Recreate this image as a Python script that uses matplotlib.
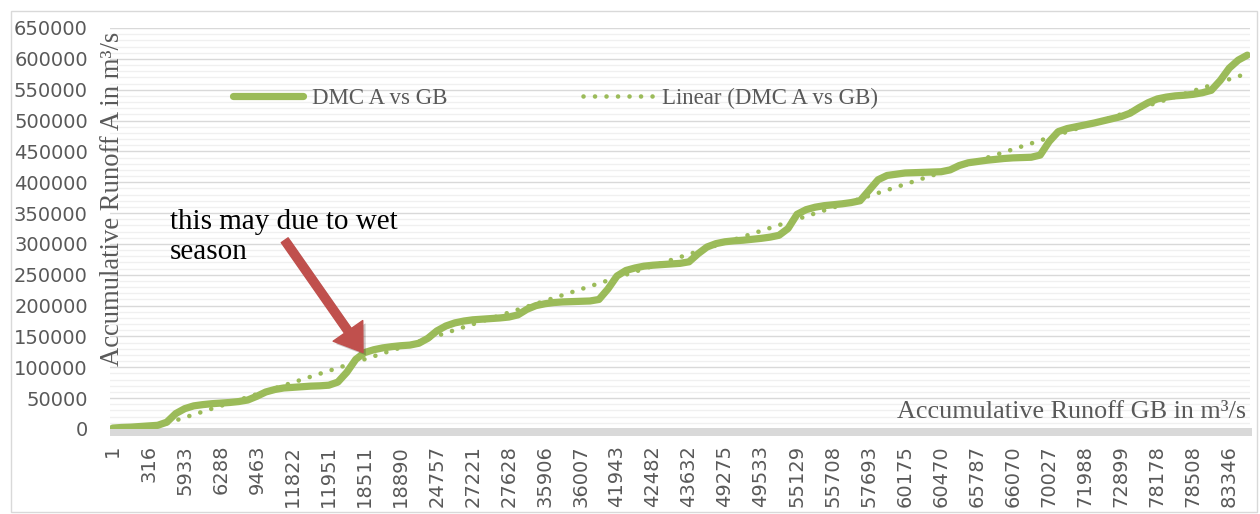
import numpy as np
import matplotlib
matplotlib.use("Agg")
import matplotlib.pyplot as plt
from matplotlib.patches import Rectangle
from matplotlib.ticker import MultipleLocator
import matplotlib.patheffects as pe

# ---- data -------------------------------------------------------------
tick_labels = ["1", "316", "5933", "6288", "9463", "11822", "11951", "18511",
               "18890", "24757", "27221", "27628", "35906", "36007", "41943",
               "42482", "43632", "49275", "49533", "55129", "55708", "57693",
               "60175", "60470", "65787", "66070", "70027", "71988", "72899",
               "78178", "78508", "83346"]
label_every = 4

dmc_values = [
    1500, 2500, 3000, 4000, 5000, 6000, 11000, 25000, 33000, 37500,
    39500, 41000, 42000, 43000, 44500, 47000, 53000, 60000, 64000, 66500,
    67500, 68500, 69500, 70000, 71000, 76000, 92000, 113000, 124000, 128500,
    131500, 133500, 135000, 136000, 139000, 147000, 159000, 167000, 172000, 175000,
    177000, 178000, 179000, 180000, 181500, 185000, 194000, 200000, 203000, 205000,
    206000, 206500, 207000, 207500, 210000, 227000, 248000, 257000, 261000, 264000,
    265500, 266500, 267500, 268500, 271000, 284000, 295000, 300500, 303500, 305000,
    306000, 307500, 309000, 311000, 314000, 325000, 348000, 355500, 359500, 362000,
    363500, 365000, 367000, 370000, 387000, 404000, 411000, 413000, 415000, 415500,
    416000, 416500, 417000, 420000, 427000, 431500, 433500, 435500, 437000, 438500,
    439500, 440000, 440500, 444000, 466000, 482000, 487000, 490000, 493000, 496000,
    499500, 503000, 506500, 512000, 521000, 529000, 535000, 538000, 540000, 541000,
    542500, 545000, 549000, 565000, 585000, 598000, 606000]

series_name = "DMC A vs GB"
trend_name = "Linear (DMC A vs GB)"
x_title = "Accumulative Runoff GB in m³/s"
y_title = "Accumulative Runoff A in m³/s"
note = "this may due to wet\nseason"

# ---- style ------------------------------------------------------------
GREEN = "#9BBB59"
GREY_TXT = "#595959"
SERIF = ["Liberation Serif", "DejaVu Serif"]

W, H = 1260, 514
fig = plt.figure(figsize=(W / 100, H / 100), dpi=100)
ax_l, ax_r, ax_t, ax_b = 110, 1250, 28, 429
ax = fig.add_axes([ax_l / W, 1 - ax_b / H, (ax_r - ax_l) / W, (ax_b - ax_t) / H])

x = np.arange(len(dmc_values))
y = np.array(dmc_values, dtype=float)

ax.plot(x, y, color=GREEN, lw=5.2, solid_capstyle="round",
        solid_joinstyle="round", label=series_name, zorder=3)

coef = np.polyfit(x, y, 1)
trend = np.polyval(coef, x)
ax.plot(x, trend, color=GREEN, lw=3.3, linestyle=(0, (0.01, 2.5)),
        dash_capstyle="round", label=trend_name, zorder=4)

ax.set_xlim(-0.3, len(x) - 1 + 0.3)
ax.set_ylim(0, 650000)
ax.yaxis.set_major_locator(MultipleLocator(50000))
ax.yaxis.set_minor_locator(MultipleLocator(10000))
ax.grid(which="major", axis="y", color="#D9D9D9", lw=1.0, zorder=0)
ax.grid(which="minor", axis="y", color="#F0F0F0", lw=1.0, zorder=0)
ax.set_axisbelow(True)

tick_pos = x[::label_every][:len(tick_labels)]
ax.set_xticks(tick_pos)
ax.set_xticklabels(tick_labels, rotation=90, fontsize=14, color=GREY_TXT,
                   family="DejaVu Sans")
ax.tick_params(axis="x", length=0, pad=11.5)
ax.tick_params(axis="y", which="both", length=0, pad=16, labelsize=14,
               labelcolor=GREY_TXT)
for s in ax.spines.values():
    s.set_visible(False)

# thick grey category axis band
band_h = 8 / (ax_b - ax_t)
ax.add_patch(Rectangle((0, -band_h + 1 / (ax_b - ax_t)), 1 + 2 / (ax_r - ax_l), band_h,
                       transform=ax.transAxes, color="#D9D9D9", clip_on=False,
                       zorder=1, lw=0))

# axis titles
ax.set_ylabel(y_title, family=SERIF, fontsize=19.2, color=GREY_TXT,
              va="bottom", ha="center")
ax.yaxis.set_label_coords((125 - ax_l) / (ax_r - ax_l), (ax_b - 199) / (ax_b - ax_t))
ax.text((1246 - ax_l) / (ax_r - ax_l), (ax_b - 418) / (ax_b - ax_t), x_title,
        transform=ax.transAxes, ha="right", va="baseline", family=SERIF,
        fontsize=18.8, color=GREY_TXT, zorder=5)

# legend
leg = ax.legend(loc="center left",
                bbox_to_anchor=((233 - ax_l) / (ax_r - ax_l), (ax_b - 98) / (ax_b - ax_t)),
                ncol=2, frameon=False, borderpad=0, borderaxespad=0,
                handlelength=3.05, handletextpad=0.4, columnspacing=5.9,
                prop={"family": SERIF, "size": 16.5})
for t in leg.get_texts():
    t.set_color(GREY_TXT)

# annotation
ax.text((170 - ax_l) / (ax_r - ax_l), (ax_b - 209) / (ax_b - ax_t), note,
        transform=ax.transAxes, ha="left", va="top", family=SERIF,
        fontsize=21, color="black", linespacing=1.22, zorder=6)
ax.annotate("", xy=(27.8, 124000), xytext=(19.1, 306000),
            arrowprops=dict(arrowstyle="simple,head_length=0.95,head_width=1.3,tail_width=0.3",
                            mutation_scale=20, color="#C0504D", shrinkA=0, shrinkB=0,
                            path_effects=[pe.SimplePatchShadow(offset=(2, -2), alpha=0.25),
                                          pe.Normal()]),
            zorder=7)

# outer chart border
fig.patches.append(Rectangle((11 / W, 2 / H), 1246 / W, 501 / H,
                             transform=fig.transFigure, fill=False,
                             edgecolor="#D9D9D9", lw=1.0))

fig.savefig("out.png", dpi=100, facecolor="white")
